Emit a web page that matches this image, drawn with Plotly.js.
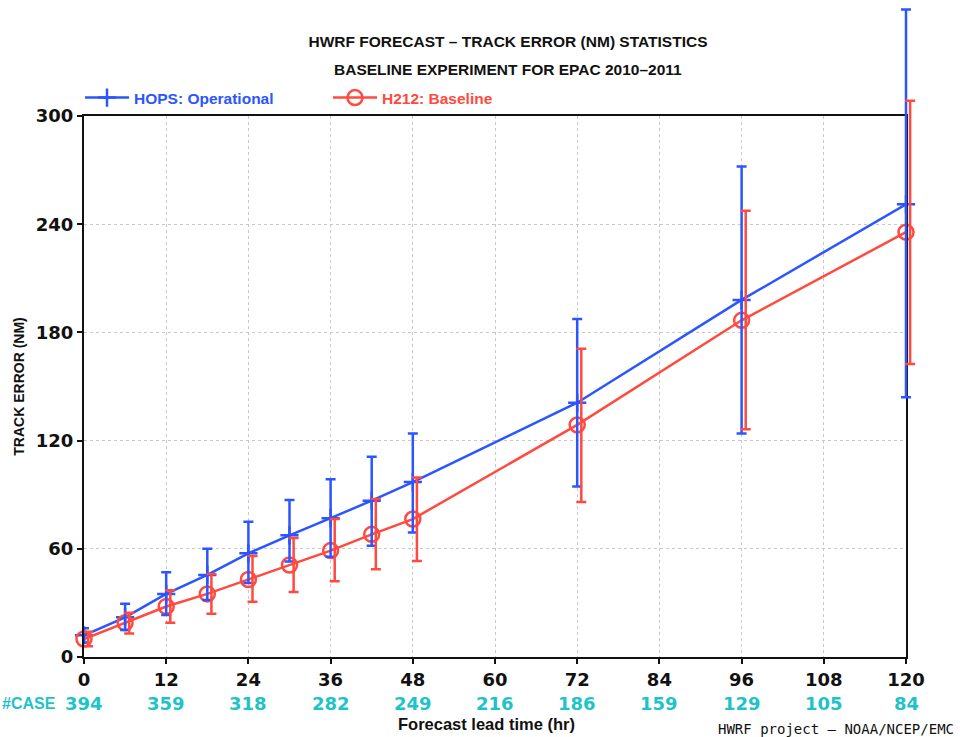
<!DOCTYPE html>
<html>
<head>
<meta charset="utf-8">
<script src="https://cdn.plot.ly/plotly-3.0.1.min.js"></script>
<style>html,body{margin:0;padding:0;background:#fff;}#chart{width:960px;height:737px;}</style>
</head>
<body>
<div id="chart"></div>
<script>
// ---- data ----
const leadHours = [0, 6, 12, 18, 24, 30, 36, 42, 48, 72, 96, 120];

const hopsMean  = [12, 22, 35, 45.5, 57.5, 67.5, 77, 86.7, 97, 141, 198, 251];
const hopsUpper = [16, 29.5, 47, 60, 75, 87, 98.6, 111, 124, 187.5, 272, 359];
const hopsLower = [8, 15, 23.3, 31.6, 41, 53, 55.6, 61.7, 69, 94.5, 124, 144];

const h212Mean  = [10, 19, 28, 35, 43, 51, 59, 68, 76.5, 128.7, 186.7, 235.6];
const h212Upper = [14, 24.5, 37, 46, 56, 66, 76.5, 87.6, 99.5, 171, 247.5, 308.5];
const h212Lower = [6, 13, 19, 24, 30.7, 36, 42, 48.6, 53.3, 86, 126.3, 162.5];

const caseHours = [0, 12, 24, 36, 48, 60, 72, 84, 96, 108, 120];
const caseCounts = [394, 359, 318, 282, 249, 216, 186, 159, 129, 105, 84];

const xTicks = [0, 12, 24, 36, 48, 60, 72, 84, 96, 108, 120];
const yTicks = [0, 60, 120, 180, 240, 300];
const X_MAX = 120, Y_MAX = 300;

// ---- geometry (pixels) ----
const PL = 84, PR = 930, PT = 5, PB = 657;       // full drawing area (for unclipped error bars)
const FR = 906, FT = 116;                          // visible frame right / top
const W = PR - PL, H = PB - PT;
const px = p => (p - PL) / W;
const py = p => (PB - p) / H;

// ---- styles ----
const BLUE = '#2a55ff';
const RED = '#ff4a40';
const CYAN = '#1ec3c8';
const NARROW = '"DejaVu Sans", sans-serif';
const tickFont = {family: NARROW, size: 18, color: '#111', weight: 'bold'};
const boldFont = {family: '"Liberation Sans", Arial, sans-serif', size: 15.5, color: '#111', weight: 'bold'};
const legFont = c => ({family: '"Liberation Sans", Arial, sans-serif', size: 15.5, weight: 'bold', color: c});
const caseFont = {family: NARROW, size: 18, color: CYAN, weight: 'bold'};

const errUp = (mean, up) => up.map((u, i) => u - mean[i]);
const errDn = (mean, lo) => lo.map((l, i) => mean[i] - l);
const redBarOffset = 0.6;

const traces = [
  {
    x: leadHours, y: hopsMean, type: 'scatter', mode: 'lines+markers',
    name: 'HOPS: Operational', legend: 'legend', xaxis: 'x', yaxis: 'y',
    line: {color: BLUE, width: 2.5},
    marker: {symbol: 'cross-thin', size: 13, line: {color: BLUE, width: 2.5}, color: BLUE},
    cliponaxis: false
  },
  {
    x: leadHours, y: h212Mean, type: 'scatter', mode: 'lines+markers',
    name: 'H212: Baseline', legend: 'legend2', xaxis: 'x', yaxis: 'y',
    line: {color: RED, width: 2.5},
    marker: {symbol: 'circle-open', size: 15, line: {color: RED, width: 2.5}, color: RED},
    cliponaxis: false
  },
  {
    x: leadHours, y: hopsMean, type: 'scatter', mode: 'markers',
    showlegend: false, hoverinfo: 'skip', xaxis: 'x2', yaxis: 'y2',
    marker: {size: 1, opacity: 0, color: BLUE},
    error_y: {type: 'data', symmetric: false, array: errUp(hopsMean, hopsUpper),
              arrayminus: errDn(hopsMean, hopsLower), color: BLUE, thickness: 2.5, width: 5}
  },
  {
    x: leadHours.map(h => h + redBarOffset), y: h212Mean, type: 'scatter', mode: 'markers',
    showlegend: false, hoverinfo: 'skip', xaxis: 'x2', yaxis: 'y2',
    marker: {size: 1, opacity: 0, color: RED},
    error_y: {type: 'data', symmetric: false, array: errUp(h212Mean, h212Upper),
              arrayminus: errDn(h212Mean, h212Lower), color: RED, thickness: 2.5, width: 5}
  }
];

const annotations = [
  {text: 'BASELINE EXPERIMENT FOR EPAC 2010–2011', xref: 'paper', yref: 'paper',
   x: px(508), y: py(69), xanchor: 'center', yanchor: 'middle', showarrow: false, font: boldFont},
  {text: '#CASE', xref: 'paper', yref: 'paper', x: px(0), y: py(703),
   xanchor: 'left', yanchor: 'middle', showarrow: false,
   font: {family: '"Liberation Sans", Arial, sans-serif', size: 16, color: CYAN, weight: 'bold'}},
  {text: 'HWRF project – NOAA/NCEP/EMC', xref: 'paper', yref: 'paper',
   x: px(956), y: py(729), xanchor: 'right', yanchor: 'middle', showarrow: false,
   font: {family: '"DejaVu Sans Mono", monospace', size: 14, color: '#111'}},
  {text: 'Forecast lead time (hr)', xref: 'paper', yref: 'paper',
   x: px(486), y: py(724), xanchor: 'center', yanchor: 'middle', showarrow: false,
   font: {family: '"Liberation Sans", Arial, sans-serif', size: 16.5, weight: 'bold', color: '#111'}}
];
caseHours.forEach((h, i) => {
  annotations.push({
    text: String(caseCounts[i]), xref: 'x', yref: 'paper', x: h, y: py(703),
    xanchor: 'center', yanchor: 'middle', showarrow: false, font: caseFont
  });
});

const legendBase = {orientation: 'h', xanchor: 'left', y: py(98), yanchor: 'middle',
                    itemwidth: 44, bgcolor: 'rgba(0,0,0,0)'};

const layout = {
  width: 960, height: 737,
  margin: {l: PL, r: 960 - PR, t: PT, b: 737 - PB},
  paper_bgcolor: '#fff', plot_bgcolor: 'rgba(0,0,0,0)',
  title: {text: 'HWRF FORECAST – TRACK ERROR (NM) STATISTICS', font: boldFont,
          x: 508 / 960, xanchor: 'center', y: 1 - 42 / 737, yanchor: 'middle', xref: 'container', yref: 'container'},
  showlegend: true,
  legend: Object.assign({}, legendBase, {x: px(80), font: legFont(BLUE)}),
  legend2: Object.assign({}, legendBase, {x: px(328), font: legFont(RED)}),
  xaxis: {
    domain: [0, (FR - PL) / W], anchor: 'y',
    range: [0, X_MAX], tickvals: xTicks, ticktext: xTicks.map(String),
    showline: true, linecolor: '#111', linewidth: 2, mirror: true,
    ticks: 'outside', ticklen: 5, tickwidth: 2, tickcolor: '#111',
    showgrid: true, gridcolor: '#c8c8c8', griddash: 'dot', gridwidth: 1,
    zeroline: false, tickfont: tickFont
  },
  yaxis: {
    domain: [0, (PB - FT) / H], anchor: 'x',
    range: [0, Y_MAX], tickvals: yTicks, ticktext: yTicks.map(String),
    showline: true, linecolor: '#111', linewidth: 2, mirror: true,
    ticks: 'outside', ticklen: 5, tickwidth: 2, tickcolor: '#111',
    showgrid: true, gridcolor: '#c8c8c8', griddash: 'dot', gridwidth: 1,
    zeroline: false, tickfont: tickFont,
    title: {text: 'TRACK ERROR (NM)', font: {family: '"Liberation Sans", Arial, sans-serif', size: 14, weight: 'bold', color: '#111'}, standoff: 8}
  },
  xaxis2: {domain: [0, 1], anchor: 'y2', range: [0, X_MAX * W / (FR - PL)], visible: false, fixedrange: true},
  yaxis2: {domain: [0, 1], anchor: 'x2', range: [0, Y_MAX * H / (PB - FT)], visible: false, fixedrange: true},
  annotations: annotations
};

Plotly.newPlot('chart', traces, layout, {displayModeBar: false, staticPlot: true});
</script>
</body>
</html>
